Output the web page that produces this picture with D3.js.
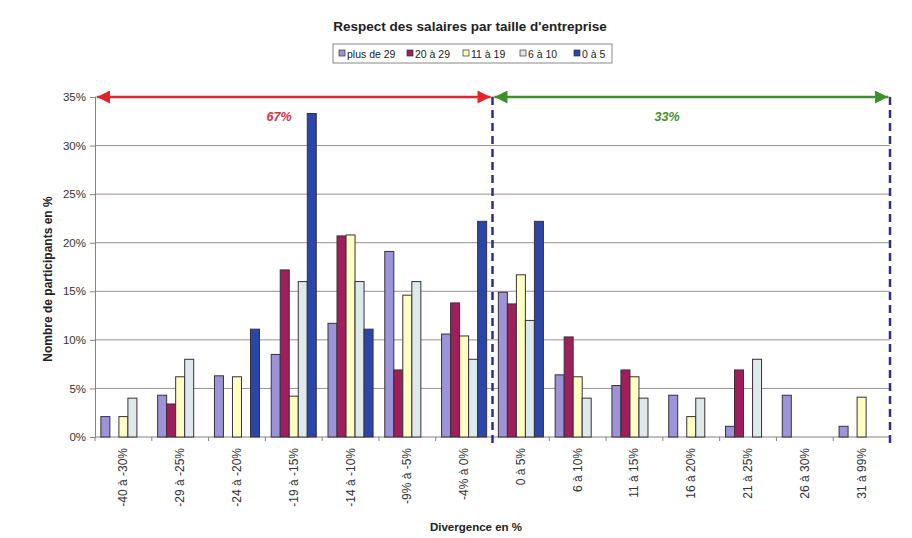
<!DOCTYPE html>
<html>
<head>
<meta charset="utf-8">
<script src="https://cdn.jsdelivr.net/npm/d3@7"></script>
<style>
  body { margin: 0; background: #fff; }
  text { font-family: "Liberation Sans", Arial, sans-serif; }
</style>
</head>
<body>
<div id="chart"></div>
<script>
// Data
var categories = ["-40 à -30%", "-29 à -25%", "-24 à -20%", "-19 à -15%", "-14 à -10%", "-9% à -5%", "-4% à 0%",
  "0 à 5%", "6 à 10%", "11 à 15%", "16 à 20%", "21 à 25%", "26 à 30%", "31 à 99%"];
var seriesNames = ["plus de 29", "20 à 29", "11 à 19", "6 à 10", "0 à 5"];
var plus29 = [2.1, 4.3, 6.3, 8.5, 11.7, 19.1, 10.6, 14.9, 6.4, 5.3, 4.3, 1.1, 4.3, 1.1];
var de20a29 = [0, 3.4, 0, 17.2, 20.7, 6.9, 13.8, 13.7, 10.3, 6.9, 0, 6.9, 0, 0];
var de11a19 = [2.1, 6.2, 6.2, 4.2, 20.8, 14.6, 10.4, 16.7, 6.2, 6.2, 2.1, 0, 0, 4.1];
var de6a10 = [4.0, 8.0, 0, 16.0, 16.0, 16.0, 8.0, 12.0, 4.0, 4.0, 4.0, 8.0, 0, 0];
var de0a5 = [0, 0, 11.1, 33.3, 11.1, 0, 22.2, 22.2, 0, 0, 0, 0, 0, 0];
var yTicks = [0, 5, 10, 15, 20, 25, 30, 35];
var leftShare = "67%";
var rightShare = "33%";

var seriesValues = [plus29, de20a29, de11a19, de6a10, de0a5];
var colors = ["#9c94d8", "#9e1f5c", "#ffffc4", "#dde9ea", "#2a46a8"];

// SVG Dimensions
var svgWidth = 912;
var svgHeight = 538;
var margin = { top: 97, right: 22, bottom: 101, left: 95 };
var width = svgWidth - margin.left - margin.right;
var height = svgHeight - margin.top - margin.bottom;

var svg = d3.select("#chart")
  .append("svg")
  .attr("width", svgWidth)
  .attr("height", svgHeight);

var defs = svg.append("defs");
function arrowHead(id, color) {
  defs.append("marker")
    .attr("id", id)
    .attr("viewBox", "0 0 10 10")
    .attr("refX", 10).attr("refY", 5)
    .attr("markerWidth", 6).attr("markerHeight", 5.2)
    .attr("markerUnits", "strokeWidth")
    .attr("orient", "auto-start-reverse")
    .append("path")
    .attr("d", "M0,0 L10,5 L0,10 Z")
    .attr("fill", color);
}
arrowHead("arrRed", "#e0262b");
arrowHead("arrGreen", "#3f8f2a");

// Title
svg.append("text")
  .attr("x", 470).attr("y", 31)
  .attr("text-anchor", "middle")
  .attr("font-size", "13.5px")
  .attr("font-weight", "bold")
  .attr("fill", "#222")
  .text("Respect des salaires par taille d'entreprise");

var chartGroup = svg.append("g")
  .attr("transform", `translate(${margin.left}, ${margin.top})`);

// Scales
var x0 = d3.scaleBand().domain(categories).range([0, width]).padding(0);
var x1 = d3.scaleBand().domain(seriesNames).range([0, x0.bandwidth()])
  .paddingInner(0).paddingOuter(0.65);
var y = d3.scaleLinear().domain([0, 35]).range([height, 0]);

// Gridlines
chartGroup.append("g").selectAll("line")
  .data(yTicks.filter(d => d > 0))
  .enter().append("line")
  .attr("x1", 0).attr("x2", width)
  .attr("y1", d => y(d)).attr("y2", d => y(d))
  .attr("stroke", "#9a9090").attr("stroke-width", 1);

// Axes
var leftAxis = d3.axisLeft(y).tickValues(yTicks).tickFormat(d => d + "%").tickSize(5);
var yAxisG = chartGroup.append("g").call(leftAxis);
yAxisG.select(".domain").attr("stroke", "#8a8080");
yAxisG.selectAll(".tick line").attr("stroke", "#8a8080");
yAxisG.selectAll("text").attr("font-size", "11.5px").attr("fill", "#333").attr("x", -9);

var xAxisG = chartGroup.append("g").attr("transform", `translate(0, ${height})`);
xAxisG.append("line").attr("x1", 0).attr("x2", width).attr("stroke", "#8a8080");
xAxisG.selectAll(".tk")
  .data(categories)
  .enter().append("line")
  .attr("x1", d => x0(d)).attr("x2", d => x0(d))
  .attr("y1", 0).attr("y2", 4)
  .attr("stroke", "#8a8080");
xAxisG.selectAll(".lbl")
  .data(categories)
  .enter().append("text")
  .attr("transform", d => `translate(${x0(d) + x0.bandwidth() / 2 + 4}, 11) rotate(-90)`)
  .attr("text-anchor", "end")
  .attr("font-size", "12px")
  .attr("fill", "#333")
  .text(d => d);

// Bars
var barData = [];
categories.forEach(function(c, i) {
  seriesNames.forEach(function(s, j) {
    if (seriesValues[j][i] > 0) barData.push({ cat: c, series: s, idx: j, value: seriesValues[j][i] });
  });
});
chartGroup.append("g").selectAll("rect")
  .data(barData)
  .enter().append("rect")
  .attr("x", d => x0(d.cat) + x1(d.series))
  .attr("y", d => y(d.value))
  .attr("width", x1.bandwidth())
  .attr("height", d => height - y(d.value))
  .attr("fill", d => colors[d.idx])
  .attr("stroke", "#3a2f3a")
  .attr("stroke-width", 1);

// Dashed separators
var splitX = x0("0 à 5%");
[splitX, width].forEach(function(xx) {
  chartGroup.append("line")
    .attr("x1", xx).attr("x2", xx)
    .attr("y1", y(35)).attr("y2", height + 11)
    .attr("stroke", "#2e2e8c")
    .attr("stroke-width", 2.5)
    .attr("stroke-dasharray", "8,5");
});

// Arrows
chartGroup.append("line")
  .attr("x1", 2).attr("x2", splitX - 2)
  .attr("y1", y(35)).attr("y2", y(35))
  .attr("stroke", "#e0262b").attr("stroke-width", 2.5)
  .attr("marker-start", "url(#arrRed)")
  .attr("marker-end", "url(#arrRed)");
chartGroup.append("line")
  .attr("x1", splitX + 2).attr("x2", width - 2)
  .attr("y1", y(35)).attr("y2", y(35))
  .attr("stroke", "#3f8f2a").attr("stroke-width", 2.5)
  .attr("marker-start", "url(#arrGreen)")
  .attr("marker-end", "url(#arrGreen)");

chartGroup.append("text")
  .attr("x", 184).attr("y", y(35) + 24)
  .attr("text-anchor", "middle")
  .attr("font-size", "12.5px").attr("font-weight", "bold").attr("font-style", "italic")
  .attr("fill", "#d8333a")
  .text(leftShare);
chartGroup.append("text")
  .attr("x", 572).attr("y", y(35) + 24)
  .attr("text-anchor", "middle")
  .attr("font-size", "12.5px").attr("font-weight", "bold").attr("font-style", "italic")
  .attr("fill", "#4a9030")
  .text(rightShare);

// Axis titles
svg.append("text")
  .attr("transform", `translate(52, 279) rotate(-90)`)
  .attr("text-anchor", "middle")
  .attr("font-size", "12px").attr("font-weight", "bold").attr("fill", "#222")
  .text("Nombre de participants en %");
svg.append("text")
  .attr("x", 476).attr("y", 531)
  .attr("text-anchor", "middle")
  .attr("font-size", "11.5px").attr("font-weight", "bold").attr("fill", "#222")
  .text("Divergence en %");

// Legend
var legend = svg.append("g").attr("transform", "translate(333, 44)");
legend.append("rect")
  .attr("width", 279).attr("height", 19)
  .attr("fill", "#fff").attr("stroke", "#888");
var lx = [6, 74, 130, 187, 241];
seriesNames.forEach(function(s, i) {
  legend.append("rect")
    .attr("x", lx[i]).attr("y", 6)
    .attr("width", 6).attr("height", 6)
    .attr("fill", colors[i]).attr("stroke", "#333").attr("stroke-width", 0.7);
  legend.append("text")
    .attr("x", lx[i] + 8).attr("y", 13.5)
    .attr("font-size", "10.5px").attr("fill", "#222")
    .text(s);
});
</script>
</body>
</html>
